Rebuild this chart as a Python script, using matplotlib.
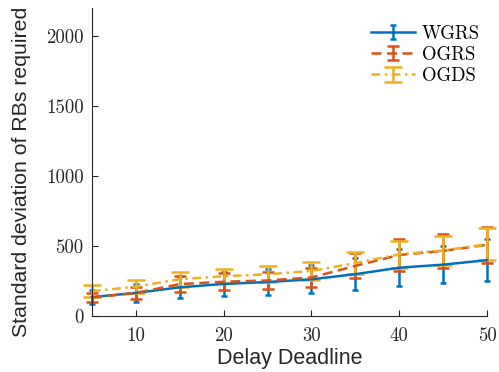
import matplotlib.pyplot as plt
from matplotlib.legend_handler import HandlerErrorbar

# Delay deadline values
deadline = [5, 10, 15, 20, 25, 30, 35, 40, 45, 50]

# mean and +/- error for each scheme
wgrs = [135, 165, 205, 229, 243, 262, 299, 345, 367, 399]
wgrs_err = [52, 64, 79, 86, 93, 100, 113, 131, 133, 149]
ogrs = [132, 165, 228, 245, 254, 275, 358, 436, 465, 509]
ogrs_err = [35, 40, 58, 62, 63, 70, 90, 112, 120, 128]
ogds = [177, 210, 263, 284, 298, 322, 378, 441, 468, 513]
ogds_err = [44, 47, 53, 51, 58, 66, 78, 97, 103, 113]

series = [
    ('WGRS', wgrs, wgrs_err, '#0072BD', '-', 2.5),
    ('OGRS', ogrs, ogrs_err, '#D95319', (0, (4, 2.2)), 4.5),
    ('OGDS', ogds, ogds_err, '#EDB120', (0, (3.5, 1.8, 1, 1.8)), 6.8),
]

fig = plt.figure(figsize=(4.99, 3.72), dpi=100)
ax = fig.add_axes([0.1844, 0.1505, 0.7916, 0.828])

for nombre, y, e, color, estilo, cap in series:
    cont = ax.errorbar(deadline, y, yerr=e, color=color, linestyle=estilo, linewidth=1.8,
                       elinewidth=1.8, capsize=cap, capthick=1.8, label=nombre)
    for art in cont.get_children():
        art.set_clip_on(False)

ax.set_xlim(5, 50)
ax.set_ylim(0, 2200)
ax.set_xticks([10, 20, 30, 40, 50])
ax.set_yticks([0, 500, 1000, 1500, 2000])

for s in ['top', 'right']:
    ax.spines[s].set_visible(False)
for s in ['left', 'bottom']:
    ax.spines[s].set_color('#262626')
    ax.spines[s].set_linewidth(0.8)
ax.tick_params(direction='in', length=4, width=0.8, color='#262626',
               labelsize=13.5, labelcolor='#262626', pad=6)
ax.tick_params(axis='x', pad=8)
for lbl in ax.get_xticklabels() + ax.get_yticklabels():
    lbl.set_family('cmr10')

ax.set_xlabel('Delay Deadline', family='Liberation Sans', fontsize=15.5,
              color='#262626', labelpad=2)
ax.set_ylabel('Standard deviation of RBs required', family='Liberation Sans',
              fontsize=15.3, color='#262626')
ax.yaxis.set_label_coords(-0.155, 0.469)

leg = ax.legend(loc='upper right', bbox_to_anchor=(1.025, 1.0), frameon=False,
                prop={'family': 'cmr10', 'size': 13.5}, handlelength=2.3,
                handletextpad=0.4, labelspacing=0.17,
                handler_map={type(cont): HandlerErrorbar(yerr_size=0.38)})

plt.savefig('out.png', dpi=100)
